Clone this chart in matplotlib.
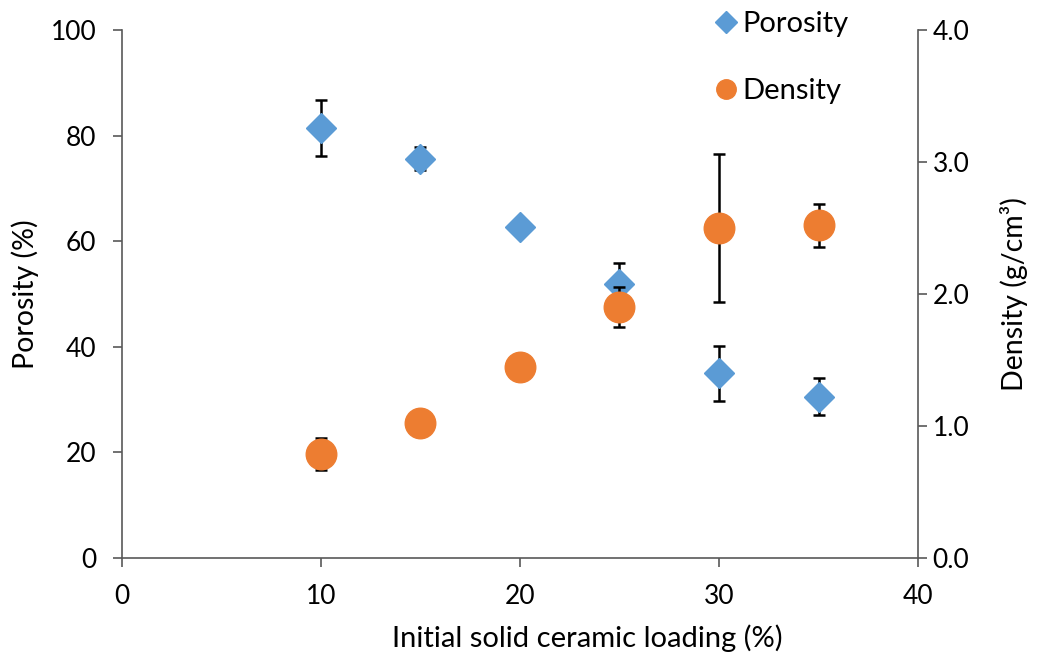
import matplotlib
matplotlib.use("Agg")
import matplotlib.pyplot as plt
from matplotlib.lines import Line2D

# data
loading = [10, 15, 20, 25, 30, 35]
porosity = [81.4, 75.6, 62.7, 51.9, 35.0, 30.5]
porosity_err = [5.3, 2.2, 0.8, 4.0, 5.2, 3.5]
density = [0.79, 1.02, 1.45, 1.90, 2.50, 2.52]
density_err = [0.12, 0.05, 0.04, 0.15, 0.56, 0.165]

blue = '#5B9BD5'
orange = '#ED7D31'

plt.rcParams['font.family'] = ['Lato', 'DejaVu Sans']
plt.rcParams['font.size'] = 19

fig = plt.figure(figsize=(10.38, 6.52), dpi=100)
ax = fig.add_axes([0.1175, 0.1442, 0.7669, 0.8098])
ax2 = ax.twinx()

err_style = dict(ecolor='black', elinewidth=1.8, capsize=4.2, capthick=1.8, linestyle='none')
ax.errorbar(loading, porosity, yerr=porosity_err, marker='D', ms=15.5,
            color=blue, mec=blue, **err_style)
ax2.errorbar(loading, density, yerr=density_err, marker='o', ms=22,
             color=orange, mec=orange, **err_style)

ax.set_xlim(0, 40)
ax.set_ylim(0, 100)
ax2.set_ylim(0, 4.0)
ax.set_xticks([0, 10, 20, 30, 40])
ax.set_yticks([0, 20, 40, 60, 80, 100])
ax2.set_yticks([0, 1, 2, 3, 4])
ax2.set_yticklabels(['0.0', '1.0', '2.0', '3.0', '4.0'])

for a in (ax, ax2):
    a.spines['top'].set_visible(False)
    for s in a.spines.values():
        s.set_color('#595959')
        s.set_linewidth(1.2)
    a.tick_params(direction='out', length=6.5, width=1.2, color='#595959', labelsize=19)
ax.spines['right'].set_visible(False)
ax2.spines['left'].set_visible(False)
ax2.spines['bottom'].set_visible(False)
ax.tick_params(axis='y', pad=12)
ax.tick_params(axis='x', pad=12)
ax2.tick_params(axis='y', pad=4)

ax.set_xlabel('Initial solid ceramic loading (%)', fontsize=21)
ax.xaxis.set_label_coords(0.584, -0.125)
ax.set_ylabel('Porosity (%)', fontsize=20.5, labelpad=8)
ax2.set_ylabel('Density (g/cm³)', fontsize=20.5, labelpad=22)

handles = [Line2D([], [], marker='D', ms=11, color=blue, linestyle='none'),
           Line2D([], [], marker='o', ms=14, color=orange, linestyle='none')]
ax2.legend(handles, ['Porosity', 'Density'], loc='upper left',
           bbox_to_anchor=(0.708, 1.085), frameon=False, fontsize=21,
           labelspacing=1.4, handletextpad=0.05, handlelength=1.0)

fig.savefig('out.png', dpi=100)
